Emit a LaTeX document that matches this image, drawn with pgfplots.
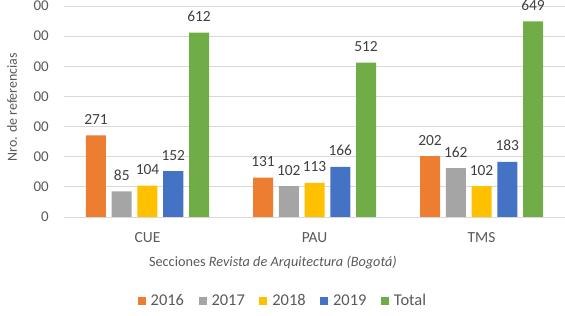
\documentclass[border=0pt]{standalone}
\usepackage{fontspec}
\setmainfont{Carlito}
\usepackage{pgfplots}
\pgfplotsset{compat=1.18}
\definecolor{c16}{HTML}{ED7D31}
\definecolor{c17}{HTML}{A5A5A5}
\definecolor{c18}{HTML}{FFC000}
\definecolor{c19}{HTML}{4472C4}
\definecolor{ctot}{HTML}{70AD47}
\definecolor{gridc}{HTML}{D9D9D9}
\definecolor{txt}{HTML}{595959}
\definecolor{lbl}{HTML}{404040}
\begin{document}
\begin{tikzpicture}
\begin{axis}[name=ax, scale only axis, width=501bp, height=211bp,
  ymin=0, ymax=700, xmin=-0.5, xmax=2.5,
  ytick={0,100,...,700}, yticklabels={0,00,00,00,00,00,00,00},
  xtick={0,1,2}, xticklabels={CUE,PAU,TMS},
  ymajorgrids, grid style={draw=gridc, line width=0.8bp},
  axis line style={draw=none}, major tick length=0,
  /pgf/number format/assume math mode=true,
  ybar, bar width=20bp,
  yticklabel style={font=\fontsize{15}{18}\selectfont, text=txt, anchor=east, inner sep=0pt, xshift=-15bp},
  xticklabel style={font=\fontsize{15.5}{18}\selectfont, text=txt, anchor=center, yshift=-21bp},
  xlabel={Secciones \textit{Revista de Arquitectura (Bogotá)}},
  xlabel style={font=\fontsize{14.3}{17}\selectfont, text=txt, at={(axis description cs:0.417,0)}, anchor=center, yshift=-46bp},
  ylabel={Nro. de referencias},
  ylabel style={font=\fontsize{14}{17}\selectfont, text=txt, at={(axis description cs:0,0.52)}, anchor=center, yshift=52bp},
  nodes near coords,
  nodes near coords align={anchor=base},
  every node near coord/.append style={font=\fontsize{15.5}{18}\selectfont, text=lbl, yshift=11bp},
  legend columns=5,
  legend entries={2016,2017,2018,2019,Total},
  legend image code/.code={\fill[#1] (0bp,-4bp) rectangle (8bp,4bp); \path (0bp,0bp) -- (11bp,0bp);},
  legend style={at={(axis description cs:0.437,0)}, anchor=center, yshift=-84bp, draw=none, fill=none,
    font=\fontsize{16.5}{19}\selectfont, text=txt,
    /tikz/every even column/.append style={column sep=12.5bp}},
]
\addplot[fill=c16, draw=none, bar shift=-51.5bp] coordinates {(0,271) (1,131) (2,202)};
\addplot[fill=c17, draw=none, bar shift=-25.75bp] coordinates {(0,85) (1,102) (2,162)};
\addplot[fill=c18, draw=none, bar shift=0bp] coordinates {(0,104) (1,113) (2,102)};
\addplot[fill=c19, draw=none, bar shift=25.75bp] coordinates {(0,152) (1,166) (2,183)};
\addplot[fill=ctot, draw=none, bar shift=51.5bp] coordinates {(0,612) (1,512) (2,649)};
\end{axis}
\pgfresetboundingbox
\useasboundingbox ([shift={(-64bp,-99bp)}]ax.south west) rectangle ([shift={(0bp,6bp)}]ax.north east);
\end{tikzpicture}
\end{document}
